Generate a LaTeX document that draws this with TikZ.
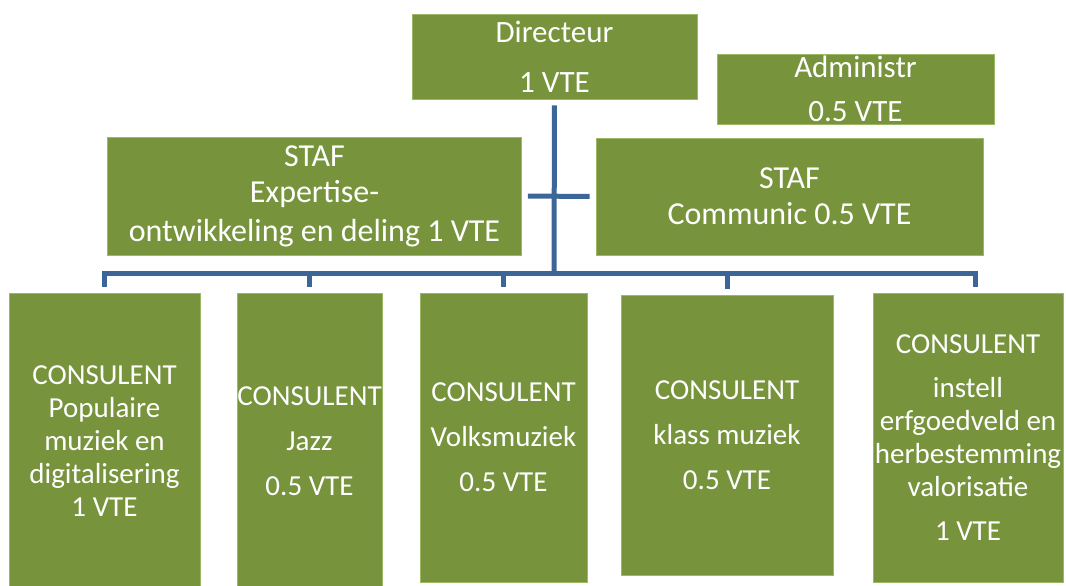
\documentclass[tikz,border=0pt]{standalone}
\usepackage{fontspec}
\setmainfont{Carlito}
\usetikzlibrary{positioning}

\definecolor{boxgreen}{HTML}{77933C}
\definecolor{edgegreen}{HTML}{9BB865}
\definecolor{lineblue}{HTML}{3C6698}

\tikzset{
  orgbox/.style={rectangle, fill=boxgreen, draw=edgegreen, line width=0.6pt, text=white,
    inner sep=0pt, align=center, font=\fontsize{29}{33}\selectfont},
  topbox/.style={orgbox, font=\fontsize{31}{36}\selectfont},
  stafbox/.style={orgbox, font=\fontsize{32}{36}\selectfont},
  orgline/.style={draw=lineblue, line width=5pt}
}

\begin{document}
\begin{tikzpicture}[x=1pt, y=-1pt]
    \useasboundingbox (0,0) rectangle (1066,586);
    % top row
    \node[topbox, minimum width=285pt, minimum height=85pt](dir) at (554.5,56.5){Directeur\\[14pt]1 VTE};
    \node[topbox, minimum width=277pt, minimum height=70pt](admin) at (855.5,89){Administr\\[8pt]0.5 VTE};
    \node[stafbox, minimum width=414pt, minimum height=118pt](stafexp) at (314.5,196){STAF\\Expertise-\\[3pt]ontwikkeling en deling 1 VTE};
    \node[stafbox, minimum width=387pt, minimum height=117pt](stafcom) at (789.5,196.5){STAF\\Communic 0.5 VTE};
    % consulenten
    \node[orgbox, minimum width=191pt, minimum height=296pt](pop) at (104.5,441){CONSULENT\\Populaire\\muziek en\\digitalisering\\1 VTE};
    \node[orgbox, minimum width=145pt, minimum height=296pt](jazz) at (309.5,441){CONSULENT\\[12pt]Jazz\\[12pt]0.5 VTE};
    \node[orgbox, minimum width=167pt, minimum height=289pt](volk) at (503.5,437.5){CONSULENT\\[12pt]Volksmuziek\\[12pt]0.5 VTE};
    \node[orgbox, minimum width=212pt, minimum height=280pt](klass) at (727,435){CONSULENT\\[12pt]klass muziek\\[12pt]0.5 VTE};
    \node[orgbox, minimum width=190pt, minimum height=289pt](erfg) at (968,437.5){CONSULENT\\[11pt]instell\\erfgoedveld en\\herbestemming\\valorisatie\\[11pt]1 VTE};
    % lines
    \coordinate (hub) at (554,273);
    \draw[orgline, shorten <=6pt] (dir.south) -- (hub);
    \draw[orgline, shorten <=6pt, shorten >=6pt] (stafexp.east) -- (stafcom.west);
    \draw[orgline, shorten >=6pt] (hub) -| (pop.north);
    \draw[orgline, shorten >=6pt] (hub) -| (jazz.north);
    \draw[orgline, shorten >=6pt] (hub) -| (volk.north);
    \draw[orgline, shorten >=6pt] (hub) -| (klass.north);
    \draw[orgline, shorten >=6pt] (hub) -| ([xshift=7pt]erfg.north);
\end{tikzpicture}
\end{document}
